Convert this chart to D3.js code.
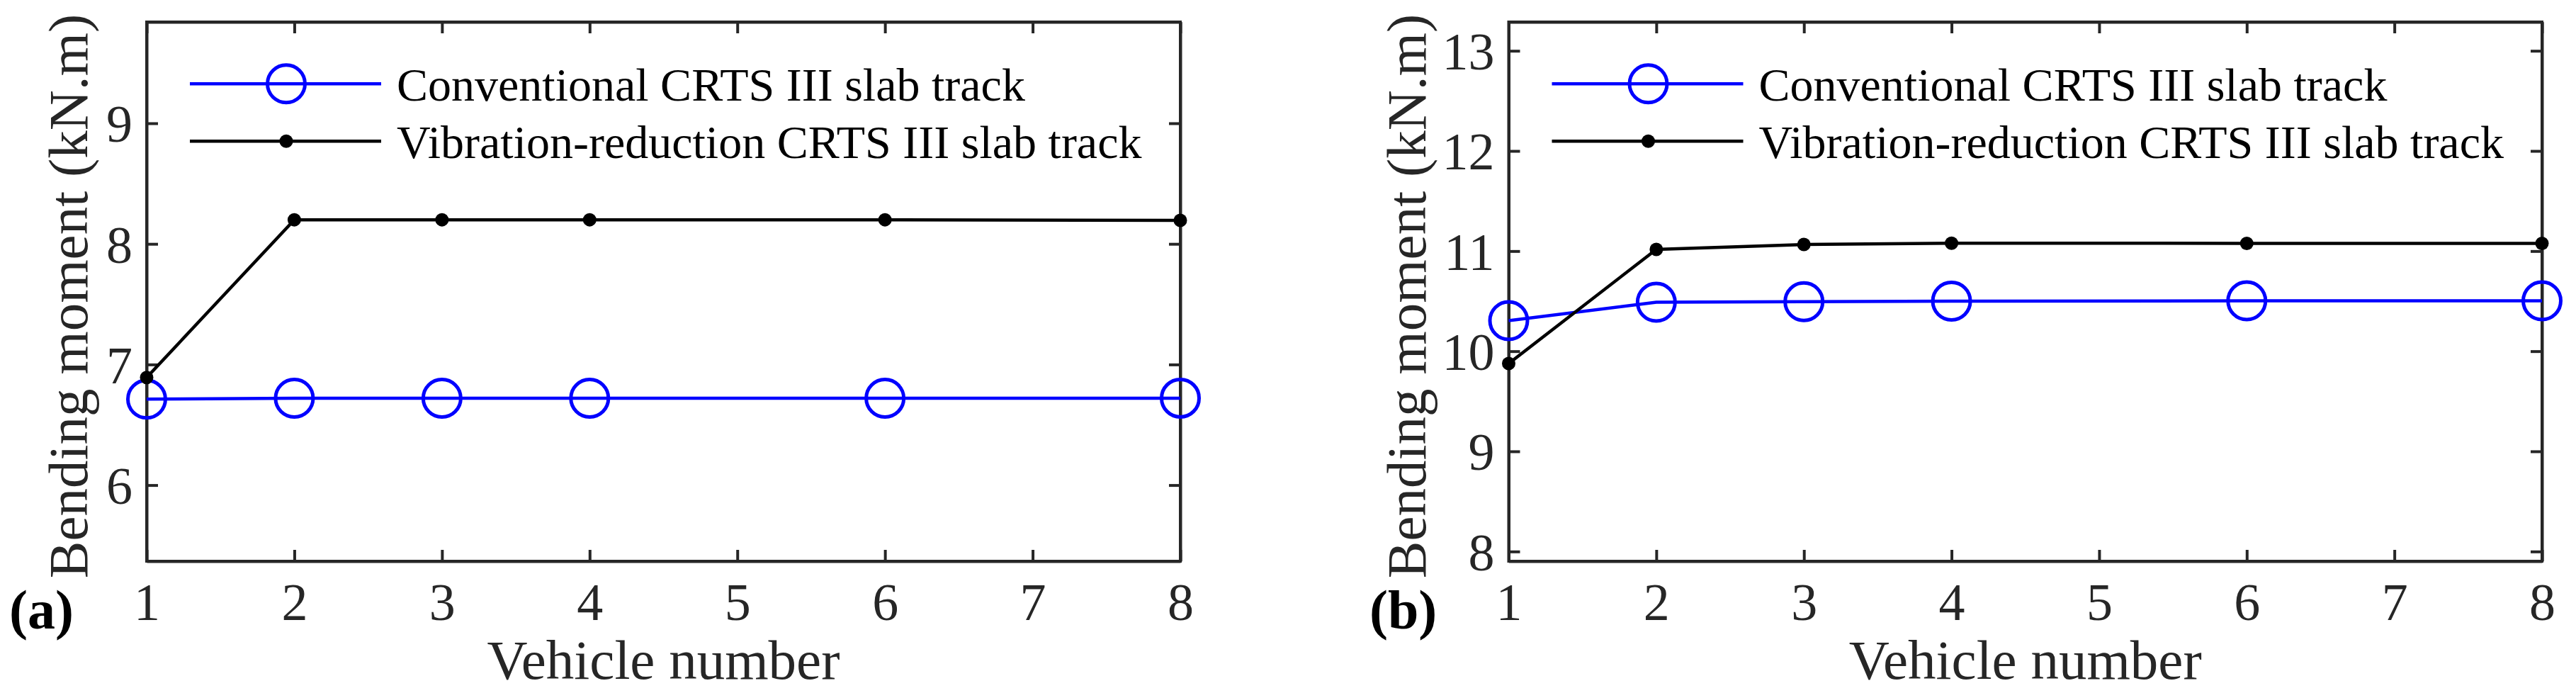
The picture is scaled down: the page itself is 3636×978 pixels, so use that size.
<!DOCTYPE html>
<html>
<head>
<meta charset="utf-8">
<script src="https://cdn.jsdelivr.net/npm/d3@7"></script>
<style>
  html, body { margin: 0; padding: 0; background: #fff; }
  svg { display: block; }
</style>
</head>
<body>
<script>
// ---- data ----
const vehicles = [1, 2, 3, 4, 6, 8];
const xTicks = [1, 2, 3, 4, 5, 6, 7, 8];
const seriesNames = ["Conventional CRTS III slab track", "Vibration-reduction CRTS III slab track"];
const convA = [6.713, 6.72, 6.72, 6.72, 6.72, 6.721];
const vibA  = [6.892, 8.20, 8.20, 8.20, 8.20, 8.195];
const convB = [10.305, 10.49, 10.495, 10.50, 10.503, 10.503];
const vibB  = [9.877, 11.017, 11.066, 11.079, 11.077, 11.077];
const yTicksA = [6, 7, 8, 9];
const yTicksB = [8, 9, 10, 11, 12, 13];
const yDomainA = [5.369, 9.84];
const yDomainB = [7.903, 13.288];
const panelLabels = ["(a)", "(b)"];
const xTitle = "Vehicle number";
const yTitle = "Bending moment (kN.m)";

const W = 3636, H = 978;
const AX = "#262626";
const FONT = "'Liberation Serif', 'Times New Roman', serif";

const svg = d3.select("body").append("svg")
  .attr("width", W).attr("height", H)
  .attr("viewBox", `0 0 ${W} ${H}`);

function panel(opts) {
  const { left, right, top, bottom, conv, vib, yTicks, yDomain, label, labelX, yTitleX } = opts;
  const g = svg.append("g");
  const x = d3.scaleLinear().domain([1, 8]).range([left, right]);
  const y = d3.scaleLinear().domain(yDomain).range([bottom, top]);

  const tickLen = 16;
  const bottomAxis = d3.axisBottom(x).tickValues(xTicks).tickSizeInner(-tickLen).tickSizeOuter(0).tickFormat(d3.format("d"));
  const topAxis = d3.axisTop(x).tickValues(xTicks).tickSizeInner(-tickLen).tickSizeOuter(0).tickFormat("");
  const leftAxis = d3.axisLeft(y).tickValues(yTicks).tickSizeInner(-tickLen).tickSizeOuter(0).tickFormat(d3.format("d"));
  const rightAxis = d3.axisRight(y).tickValues(yTicks).tickSizeInner(-tickLen).tickSizeOuter(0).tickFormat("");

  const gb = g.append("g").attr("transform", `translate(0,${bottom})`).call(bottomAxis);
  const gt = g.append("g").attr("transform", `translate(0,${top})`).call(topAxis);
  const gl = g.append("g").attr("transform", `translate(${left},0)`).call(leftAxis);
  const gr = g.append("g").attr("transform", `translate(${right},0)`).call(rightAxis);

  [gb, gt, gl, gr].forEach(a => {
    a.select(".domain").attr("stroke", AX).attr("stroke-width", 4);
    a.selectAll(".tick line").attr("stroke", AX).attr("stroke-width", 4);
  });
  g.append("rect").attr("x", left).attr("y", top).attr("width", right - left).attr("height", bottom - top)
    .attr("fill", "none").attr("stroke", AX).attr("stroke-width", 4);

  gb.selectAll(".tick text")
    .attr("font-family", FONT).attr("font-size", 74).attr("fill", AX)
    .attr("y", 0).attr("dy", 0)
    .attr("transform", `translate(0,${875 - bottom})`);
  gl.selectAll(".tick text")
    .attr("font-family", FONT).attr("font-size", 74).attr("fill", AX)
    .attr("x", -20).attr("dy", "0.35em");

  const lineGen = d3.line().x((d, i) => x(vehicles[i])).y(d => y(d));
  g.append("path").datum(conv).attr("d", lineGen)
    .attr("fill", "none").attr("stroke", "#0000ff").attr("stroke-width", 4.5);
  g.selectAll(".conv-m").data(conv).enter().append("circle")
    .attr("cx", (d, i) => x(vehicles[i])).attr("cy", d => y(d)).attr("r", 26.5)
    .attr("fill", "none").attr("stroke", "#0000ff").attr("stroke-width", 5);
  g.append("path").datum(vib).attr("d", lineGen)
    .attr("fill", "none").attr("stroke", "#000").attr("stroke-width", 4.5);
  g.selectAll(".vib-m").data(vib).enter().append("circle")
    .attr("cx", (d, i) => x(vehicles[i])).attr("cy", d => y(d)).attr("r", 9.5)
    .attr("fill", "#000");

  const lx0 = left + 61, lx1 = left + 331, lm = left + 197, tx = left + 353;
  const ly = [118.3, 199.3];
  g.append("line").attr("x1", lx0).attr("x2", lx1).attr("y1", ly[0]).attr("y2", ly[0])
    .attr("stroke", "#0000ff").attr("stroke-width", 4.5);
  g.append("circle").attr("cx", lm).attr("cy", ly[0]).attr("r", 26.5)
    .attr("fill", "none").attr("stroke", "#0000ff").attr("stroke-width", 5);
  g.append("line").attr("x1", lx0).attr("x2", lx1).attr("y1", ly[1]).attr("y2", ly[1])
    .attr("stroke", "#000").attr("stroke-width", 4.5);
  g.append("circle").attr("cx", lm).attr("cy", ly[1]).attr("r", 9.5).attr("fill", "#000");
  seriesNames.forEach((s, i) => {
    g.append("text").attr("x", tx).attr("y", ly[i] + 23.4)
      .attr("font-family", FONT).attr("font-size", 66).attr("fill", "#000").text(s);
  });

  g.append("text").attr("x", (left + right) / 2).attr("y", 958)
    .attr("text-anchor", "middle").attr("font-family", FONT).attr("font-size", 79).attr("fill", AX)
    .text(xTitle);
  g.append("text").attr("transform", `translate(${yTitleX},418) rotate(-90)`)
    .attr("text-anchor", "middle").attr("font-family", FONT).attr("font-size", 79).attr("fill", AX)
    .text(yTitle);

  g.append("text").attr("x", labelX).attr("y", 887)
    .attr("font-family", FONT).attr("font-size", 78).attr("font-weight", "bold").attr("fill", "#000")
    .text(label);
}

panel({ left: 207, right: 1666, top: 31, bottom: 792, conv: convA, vib: vibA,
        yTicks: yTicksA, yDomain: yDomainA, label: panelLabels[0], labelX: 13, yTitleX: 123 });
panel({ left: 2129.5, right: 3588, top: 31, bottom: 792, conv: convB, vib: vibB,
        yTicks: yTicksB, yDomain: yDomainB, label: panelLabels[1], labelX: 1933, yTitleX: 2012 });
</script>
</body>
</html>
